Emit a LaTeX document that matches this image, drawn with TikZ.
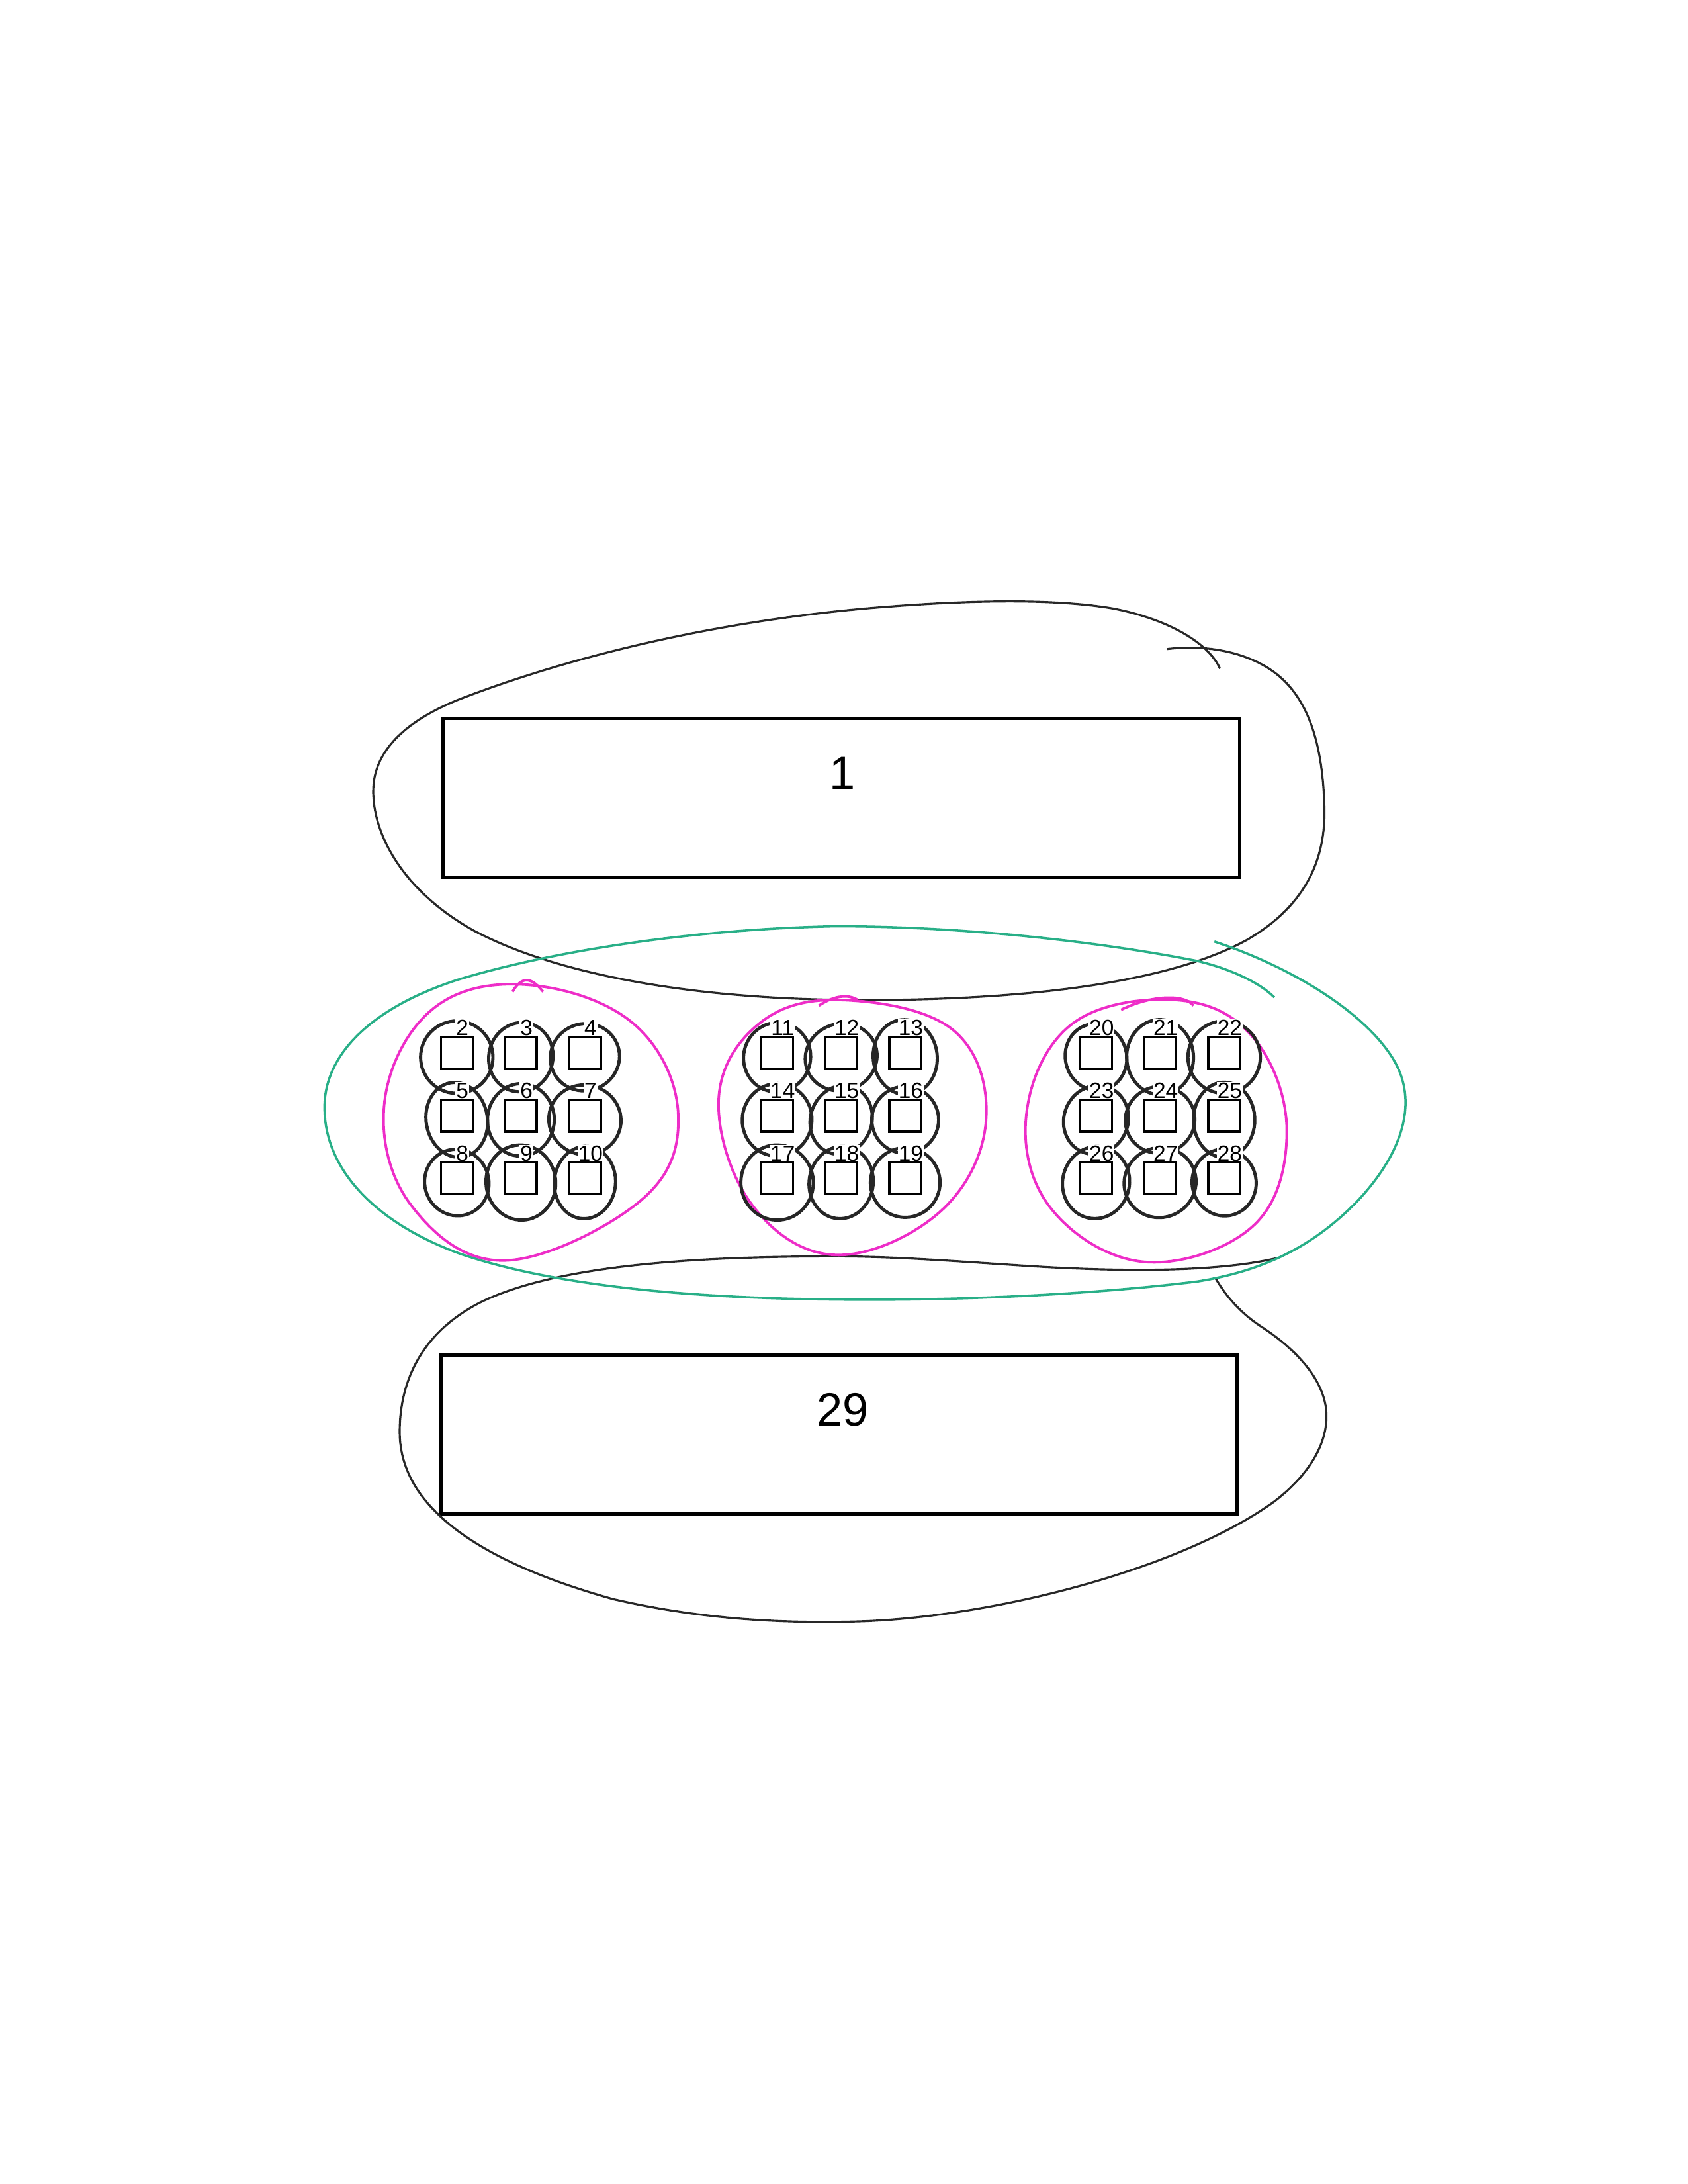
\documentclass[tikz,border=0pt]{standalone}
\usepackage{fontspec}
\setmainfont{Liberation Sans}
\definecolor{tealc}{RGB}{40,175,135}
\definecolor{pinkc}{RGB}{238,45,200}
\definecolor{inkc}{RGB}{40,40,40}
\begin{document}
\begin{tikzpicture}[x=0.02104cm,y=-0.02104cm,
  bigbox/.style={draw=black,line width=1.3pt,minimum width=12.03cm,minimum height=2.4cm,inner sep=0pt},
  bigtxt/.style={font=\fontsize{20}{24}\selectfont,inner sep=0pt},
  sq/.style={draw=black,line width=1pt,minimum width=0.48cm,minimum height=0.48cm,inner sep=0pt},
  smalltxt/.style={font=\fontsize{9.5}{11}\selectfont,fill=white,inner sep=0.3pt},
  inkloop/.style={draw=inkc,line width=0.9pt},
  tealloop/.style={draw=tealc,line width=1pt},
  pinkloop/.style={draw=pinkc,line width=1.1pt},
  ring/.style={draw=black!85,line width=1.4pt}]
\useasboundingbox (0,0) rectangle (1212,1568);
\fill[white] (0,0) rectangle (1212,1568);

% big boxes
\node[bigbox] (b1) at (604,573) {};
\node[bigtxt] (t1) at (605,555) {1};
\node[bigbox] (b29) at (602.5,1030) {};
\node[bigtxt] (t29) at (605,1012) {29};

% top black loop
\draw[inkloop] (876,480) .. controls (868,462) and (840,445) .. (800,437)
 .. controls (760,430) and (700,430) .. (620,437)
 .. controls (500,448) and (400,475) .. (330,502)
 .. controls (290,518) and (268,540) .. (268,568)
 .. controls (268,600) and (290,640) .. (340,668)
 .. controls (400,700) and (500,718) .. (620,718)
 .. controls (740,718) and (840,705) .. (895,675)
 .. controls (935,652) and (952,620) .. (951,580)
 .. controls (950,540) and (942,505) .. (918,485)
 .. controls (900,470) and (870,462) .. (838,466);

% bottom black loop
\draw[inkloop] (918,903) .. controls (880,912) and (820,914) .. (740,909)
 .. controls (680,905) and (640,902) .. (600,902)
 .. controls (500,902) and (400,908) .. (345,935)
 .. controls (300,958) and (287,995) .. (287,1028)
 .. controls (287,1080) and (340,1120) .. (440,1148)
 .. controls (500,1162) and (560,1166) .. (620,1164)
 .. controls (720,1160) and (850,1125) .. (915,1078)
 .. controls (945,1055) and (955,1030) .. (952,1010)
 .. controls (948,985) and (925,965) .. (905,952)
 .. controls (890,942) and (880,930) .. (873,918);

% teal loop
\draw[tealloop] (872,676) .. controls (930,695) and (985,730) .. (1003,765)
 .. controls (1018,795) and (1005,830) .. (975,862)
 .. controls (945,893) and (910,912) .. (860,920)
 .. controls (780,930) and (680,934) .. (600,933)
 .. controls (500,932) and (400,924) .. (330,900)
 .. controls (270,878) and (233,840) .. (233,795)
 .. controls (233,755) and (270,722) .. (330,703)
 .. controls (400,682) and (500,667) .. (600,665)
 .. controls (700,665) and (800,678) .. (860,690)
 .. controls (885,696) and (905,706) .. (915,716);

% pink loops
\draw[pinkloop] plot[smooth cycle,tension=0.65] coordinates {
 (378,707) (455,735) (487,800) (460,862) (362,905) (295,865)
 (276,792) (310,725)};
\draw[pinkloop] (368,712) .. controls (375,700) and (382,702) .. (390,712);
\draw[pinkloop] plot[smooth cycle,tension=0.65] coordinates {
 (605,718) (685,740) (708,805) (675,870) (600,901) (540,865)
 (516,790) (545,735)};
\draw[pinkloop] (588,722) .. controls (600,714) and (610,714) .. (616,718);
\draw[pinkloop] plot[smooth cycle,tension=0.65] coordinates {
 (845,718) (900,745) (924,812) (900,880) (822,906) (755,868)
 (737,800) (770,735)};
\draw[pinkloop] (805,725) .. controls (825,715) and (850,713) .. (857,722);

% small squares, rings, labels
\foreach \gx/\base in {328/2,558/11,787/20}{
  \foreach \r in {0,1,2}{
    \foreach \c in {0,1,2}{
      \pgfmathtruncatemacro{\num}{\base+3*\r+\c}
      \pgfmathsetmacro{\px}{\gx+46*\c}
      \pgfmathsetmacro{\py}{756+45*\r}
      \pgfmathsetmacro{\rot}{mod(\num*37,50)-25}
      \pgfmathsetmacro{\rxx}{22+mod(\num*7,5)}
      \pgfmathsetmacro{\ryy}{24+mod(\num*11,4)}
      \draw[ring,rotate around={\rot:(\px,\py+3)}] (\px,\py+3) ellipse [x radius=\rxx,y radius=\ryy];
      \node[sq] (s\num) at (\px,\py) {};
      \node[smalltxt] (l\num) at (\px+4,\py-18) {\num};
    }
  }
}
\end{tikzpicture}
\end{document}
